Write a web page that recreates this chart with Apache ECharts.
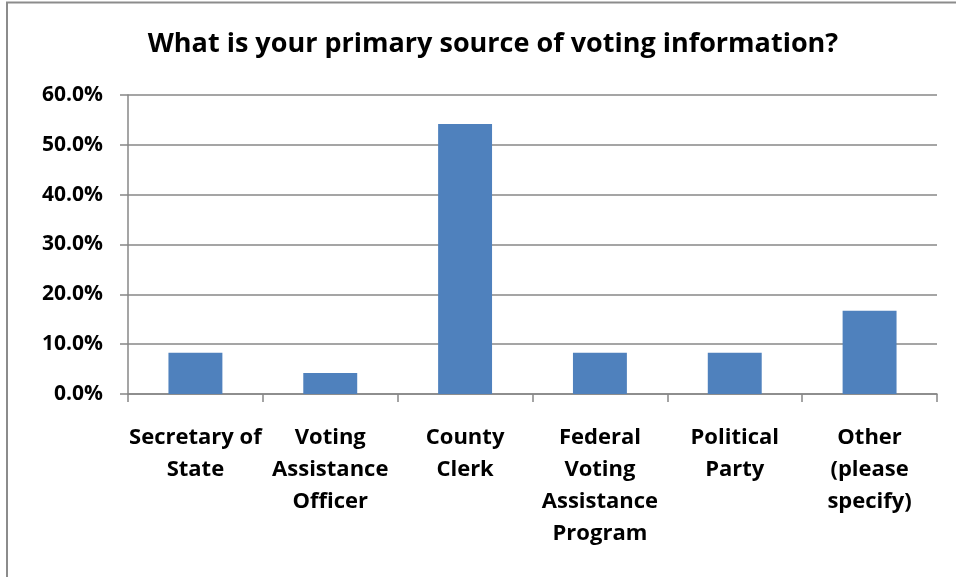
<!DOCTYPE html>
<html>
<head>
<meta charset="utf-8">
<style>
  html, body { margin: 0; padding: 0; background: #fff; }
  #chart { width: 956px; height: 577px; }
</style>
<script src="https://cdn.jsdelivr.net/npm/echarts@6/dist/echarts.min.js"></script>
</head>
<body>
<div id="chart"></div>
<script>
// Survey: primary source of voting information (share of respondents, %)
const categories = [
  'Secretary of\nState',
  'Voting\nAssistance\nOfficer',
  'County\nClerk',
  'Federal\nVoting\nAssistance\nProgram',
  'Political\nParty',
  'Other\n(please\nspecify)'
];
const shares = [8.3, 4.2, 54.2, 8.3, 8.3, 16.7];
const yTicks = [0, 10, 20, 30, 40, 50, 60];

const FONT = '"Open Sans", Lato, sans-serif';
const GRID_COLOR = '#878787';

const chart = echarts.init(document.getElementById('chart'), null, { renderer: 'canvas' });

chart.setOption({
  animation: false,
  backgroundColor: '#ffffff',
  title: {
    text: 'What is your primary source of voting information?',
    left: 488,
    textAlign: 'center',
    top: 26,
    textStyle: { fontFamily: FONT, fontWeight: 'bold', fontSize: 27, color: '#000' }
  },
  graphic: [{
    type: 'polyline',
    shape: { points: [[7, 600], [7, 2.5], [980, 2.5]] },
    style: { stroke: '#8c8c8c', lineWidth: 2, fill: null },
    silent: true
  }],
  grid: { left: 128, right: 19, top: 95, bottom: 183, containLabel: false },
  xAxis: {
    type: 'category',
    data: categories,
    axisLine: { show: true, lineStyle: { color: GRID_COLOR, width: 1.5 } },
    axisTick: { show: true, alignWithLabel: false, length: 8, lineStyle: { color: GRID_COLOR, width: 1.5 } },
    axisLabel: {
      interval: 0,
      margin: 28,
      fontFamily: FONT,
      fontWeight: 'bold',
      fontSize: 22,
      lineHeight: 32,
      color: '#000',
      verticalAlign: 'top'
    },
    splitLine: { show: false }
  },
  yAxis: {
    type: 'value',
    min: yTicks[0],
    max: yTicks[yTicks.length - 1],
    interval: yTicks[1] - yTicks[0],
    axisLine: { show: true, lineStyle: { color: GRID_COLOR, width: 1.5 } },
    axisTick: { show: true, length: 8, lineStyle: { color: GRID_COLOR, width: 1.5 } },
    axisLabel: {
      margin: 25,
      fontFamily: FONT,
      fontWeight: 'bold',
      fontSize: 21,
      color: '#000',
      formatter: v => v.toFixed(1) + '%'
    },
    splitLine: { show: true, lineStyle: { color: GRID_COLOR, width: 1.5 } }
  },
  series: [{
    type: 'bar',
    data: shares,
    barWidth: '40%',
    itemStyle: { color: '#4f81bd' },
    silent: true
  }]
});
</script>
</body>
</html>
